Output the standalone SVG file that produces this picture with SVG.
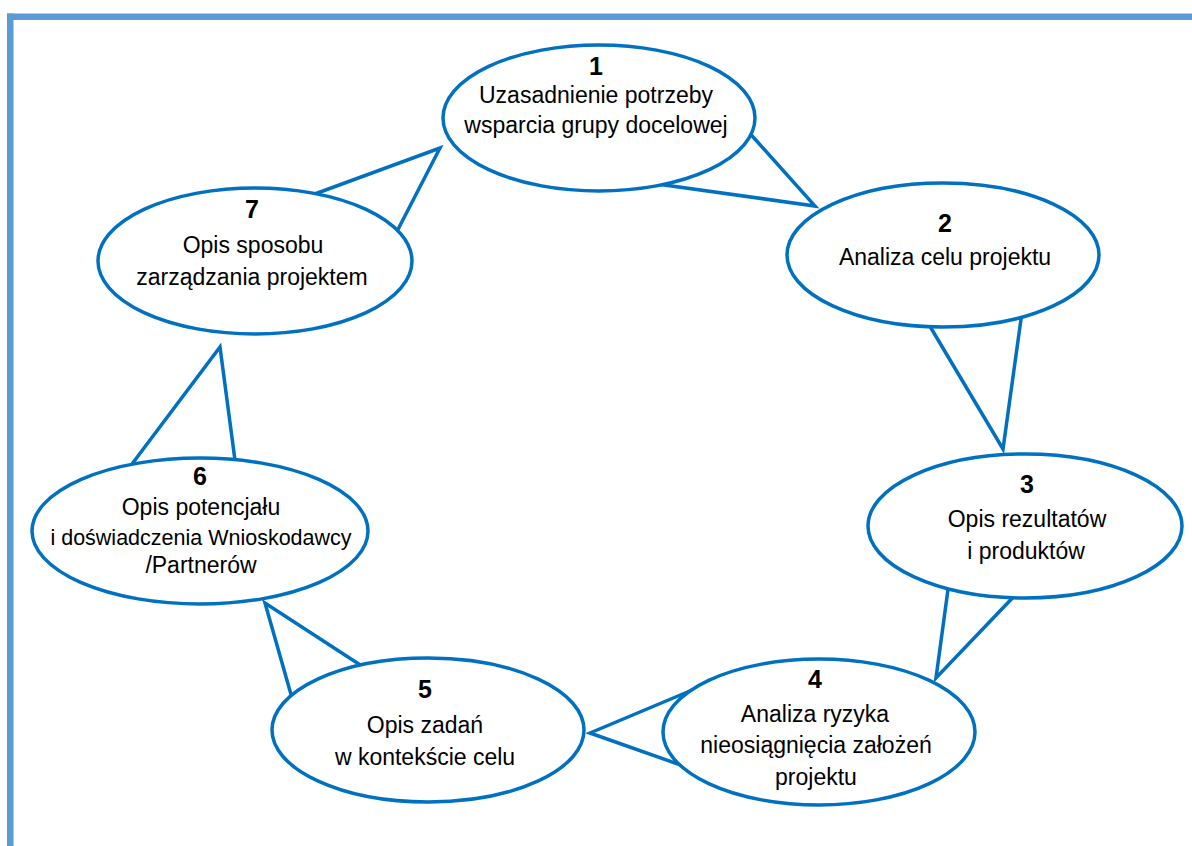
<svg xmlns="http://www.w3.org/2000/svg" width="1192" height="846" viewBox="0 0 1192 846">
<style>
.frame{fill:#5b9bd5}
.tail{fill:none;stroke:#0070c0;stroke-width:3.5;stroke-linejoin:miter}
.node{fill:#ffffff;stroke:#0070c0;stroke-width:3.5}
text{font-family:"Liberation Sans",Arial,sans-serif;fill:#000;text-anchor:middle}
.num{font-size:25px;font-weight:bold}
.lbl{font-size:23px}
</style>
<rect width="1192" height="846" fill="#ffffff"/>
<g id="frame">
<rect class="frame" x="7" y="13.5" width="1185" height="6.5"/>
<rect class="frame" x="7" y="13.5" width="6.5" height="832.5"/>
</g>
<g id="connectors">
<polyline class="tail" points="745,128 815,206 650,183"/>
<polyline class="tail" points="925,318 1003,449 1022,312"/>
<polyline class="tail" points="949,582 936,678 1020,590"/>
<polyline class="tail" points="697,688 590,733 692,769"/>
<polyline class="tail" points="294,705 265,603 368,670"/>
<polyline class="tail" points="126,472 220,347 236,468"/>
<polyline class="tail" points="312,195 440,148 392,241"/>
</g>
<g id="node1">
<ellipse class="node" cx="599" cy="118" rx="156" ry="73"/>
<text class="num" x="596" y="75">1</text>
<text class="lbl" x="596" y="103">Uzasadnienie potrzeby</text>
<text class="lbl" x="596" y="133">wsparcia grupy docelowej</text>
</g>
<g id="node2">
<ellipse class="node" cx="943" cy="255" rx="156" ry="72"/>
<text class="num" x="945" y="232">2</text>
<text class="lbl" x="945" y="265">Analiza celu projektu</text>
</g>
<g id="node3">
<ellipse class="node" cx="1025" cy="526" rx="157" ry="72"/>
<text class="num" x="1027" y="493">3</text>
<text class="lbl" x="1027" y="527">Opis rezultatów</text>
<text class="lbl" x="1026" y="559">i produktów</text>
</g>
<g id="node4">
<ellipse class="node" cx="819" cy="732" rx="156" ry="73"/>
<text class="num" x="815" y="688">4</text>
<text class="lbl" x="815" y="722">Analiza ryzyka</text>
<text class="lbl" x="816" y="753">nieosiągnięcia założeń</text>
<text class="lbl" x="816" y="785">projektu</text>
</g>
<g id="node5">
<ellipse class="node" cx="428" cy="730" rx="156" ry="72"/>
<text class="num" x="425" y="698">5</text>
<text class="lbl" x="425" y="733">Opis zadań</text>
<text class="lbl" x="425" y="765">w kontekście celu</text>
</g>
<g id="node6">
<ellipse class="node" cx="200" cy="531" rx="168" ry="73"/>
<text class="num" x="200" y="485">6</text>
<text class="lbl" x="201" y="515">Opis potencjału</text>
<text class="lbl" x="201" y="545" style="font-size:21.5px">i doświadczenia Wnioskodawcy</text>
<text class="lbl" x="201" y="573">/Partnerów</text>
</g>
<g id="node7">
<ellipse class="node" cx="255" cy="261" rx="157" ry="73"/>
<text class="num" x="252" y="218">7</text>
<text class="lbl" x="253" y="253">Opis sposobu</text>
<text class="lbl" x="252" y="285">zarządzania projektem</text>
</g>
</svg>
